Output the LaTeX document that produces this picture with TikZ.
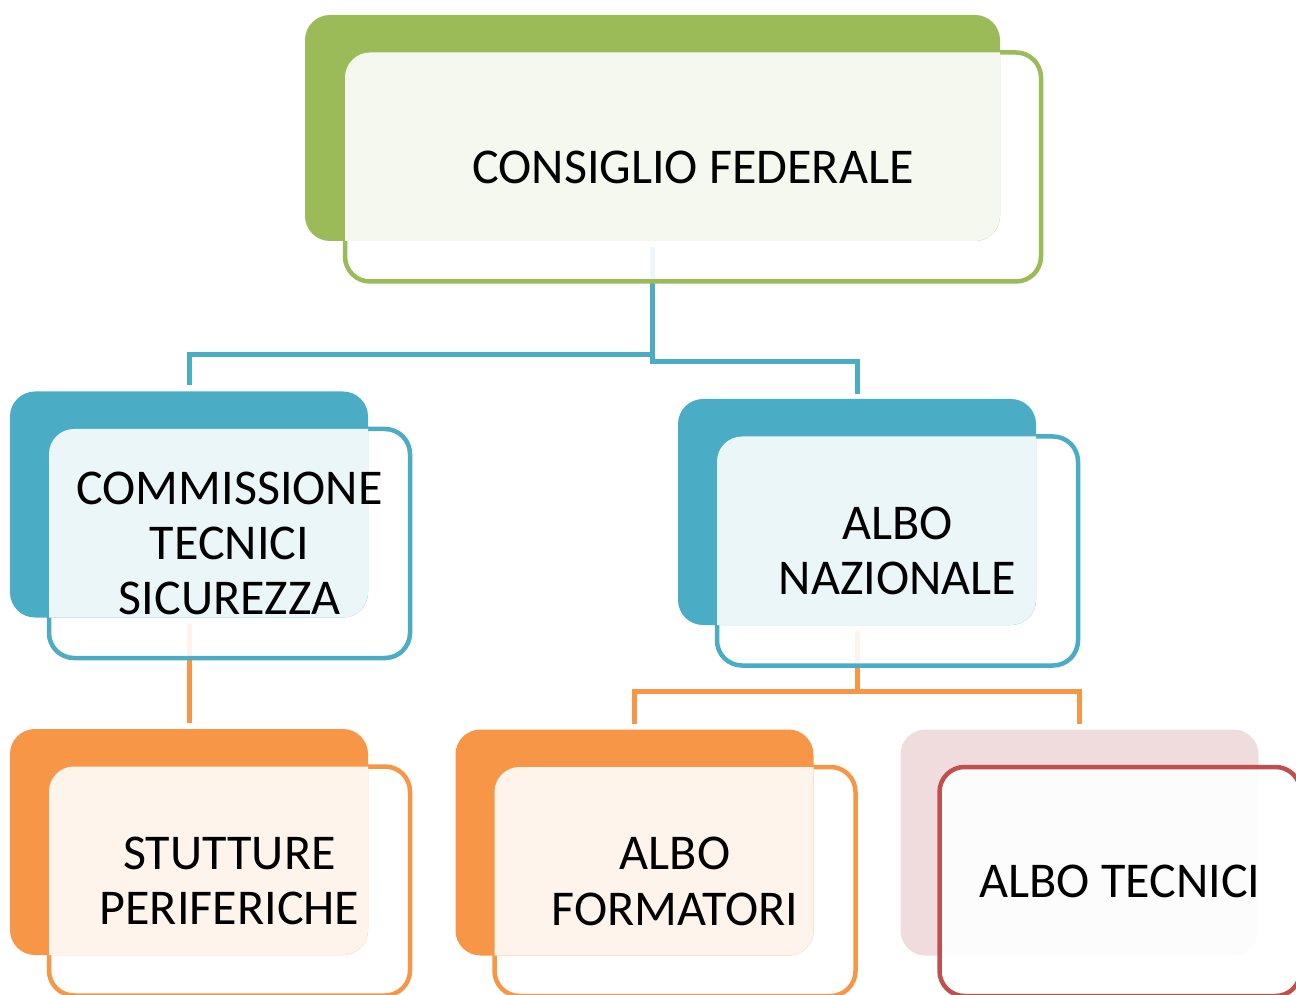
\documentclass[tikz,border=0pt]{standalone}
\usepackage{fontspec}
\setmainfont{Carlito}
\usetikzlibrary{backgrounds}
\definecolor{cfgreen}{HTML}{9BBB59}
\definecolor{cfblue}{HTML}{4BACC6}
\definecolor{cforange}{HTML}{F79646}
\definecolor{cfred}{HTML}{C0504D}
\definecolor{cfpink}{HTML}{F0DCDC}

\begin{document}
\begin{tikzpicture}[
  backbox/.style={rectangle, rounded corners=0.5cm, inner sep=0, outer sep=0, minimum width=7.16cm, minimum height=4.52cm},
  frontbox/.style={rectangle, rounded corners=0.5cm, inner sep=0, outer sep=0, minimum width=7.22cm, minimum height=4.58cm, line width=0.09cm, fill=white, fill opacity=0.9},
  txt/.style={align=center, font=\fontsize{28.5}{31.5}\selectfont, text=black},
  conn/.style={line width=0.1cm}
  ]
  \useasboundingbox (0,0) rectangle (25.92,-19.9);

  % Consiglio federale
  \node[frontbox, draw=cfgreen, minimum width=13.92cm] (consF) at (13.86,-3.34) {};
  \node[backbox, fill=cfgreen, minimum width=13.9cm] (cons) at ([shift={(-0.81,0.78)}]consF.center) {};
  \begin{scope}
    \clip[rounded corners=0.5cm] (consF.south west) rectangle (consF.north east);
    \fill[cfgreen!10, rounded corners=0.5cm] (cons.south west) rectangle (cons.north east);
  \end{scope}
  \node[txt] (consT) at (consF.center) {CONSIGLIO FEDERALE};

  % Commissione
  \node[frontbox, draw=cfblue] (commF) at (4.59,-10.87) {};
  \node[backbox, fill=cfblue] (comm) at ([shift={(-0.81,0.78)}]commF.center) {};
  \begin{scope}
    \clip[rounded corners=0.5cm] (commF.south west) rectangle (commF.north east);
    \fill[cfblue!11, rounded corners=0.5cm] (comm.south west) rectangle (comm.north east);
  \end{scope}
  \node[txt] (commT) at (commF.center) {COMMISSIONE\\TECNICI\\SICUREZZA};

  % Albo nazionale
  \node[frontbox, draw=cfblue] (alboF) at (17.95,-11.02) {};
  \node[backbox, fill=cfblue] (albo) at ([shift={(-0.81,0.78)}]alboF.center) {};
  \begin{scope}
    \clip[rounded corners=0.5cm] (alboF.south west) rectangle (alboF.north east);
    \fill[cfblue!11, rounded corners=0.5cm] (albo.south west) rectangle (albo.north east);
  \end{scope}
  \node[txt] (alboT) at (alboF.center) {ALBO\\NAZIONALE};

  % Strutture periferiche
  \node[frontbox, draw=cforange] (strutF) at (4.59,-17.62) {};
  \node[backbox, fill=cforange] (strut) at ([shift={(-0.81,0.78)}]strutF.center) {};
  \begin{scope}
    \clip[rounded corners=0.5cm] (strutF.south west) rectangle (strutF.north east);
    \fill[cforange!11, rounded corners=0.5cm] (strut.south west) rectangle (strut.north east);
  \end{scope}
  \node[txt] (strutT) at (strutF.center) {STUTTURE\\PERIFERICHE};

  % Albo formatori
  \node[frontbox, draw=cforange] (formF) at (13.50,-17.63) {};
  \node[backbox, fill=cforange] (form) at ([shift={(-0.81,0.78)}]formF.center) {};
  \begin{scope}
    \clip[rounded corners=0.5cm] (formF.south west) rectangle (formF.north east);
    \fill[cforange!11, rounded corners=0.5cm] (form.south west) rectangle (form.north east);
  \end{scope}
  \node[txt] (formT) at (formF.center) {ALBO\\FORMATORI};

  % Albo tecnici
  \node[backbox, fill=cfpink] (tecn) at (21.59,-16.85) {};
  \node[frontbox, draw=cfred, fill opacity=0.93] (tecnF) at ([shift={(0.81,-0.78)}]tecn.center) {};
  \node[txt] (tecnT) at (tecnF.center) {ALBO TECNICI};

  % Connectors
  \begin{scope}[on background layer]
    \draw[conn, cfblue] ([yshift=-0.12cm]cons.south) |- ([yshift=0.74cm]comm.north) -- ([yshift=0.12cm]comm.north);
    \draw[conn, cfblue] ([yshift=-0.12cm]cons.south) |- ([yshift=0.74cm]albo.north) -- ([yshift=0.1cm]albo.north);
    \draw[conn, cforange] ([yshift=-0.12cm]comm.south) -- ([yshift=0.12cm]strut.north);
    \draw[conn, cforange] ([yshift=-0.12cm]albo.south) |- ([yshift=0.76cm]form.north) -- ([yshift=0.12cm]form.north);
    \draw[conn, cforange] ([yshift=-0.12cm]albo.south) |- ([yshift=0.76cm]tecn.north) -- ([yshift=0.12cm]tecn.north);
  \end{scope}
\end{tikzpicture}
\end{document}
